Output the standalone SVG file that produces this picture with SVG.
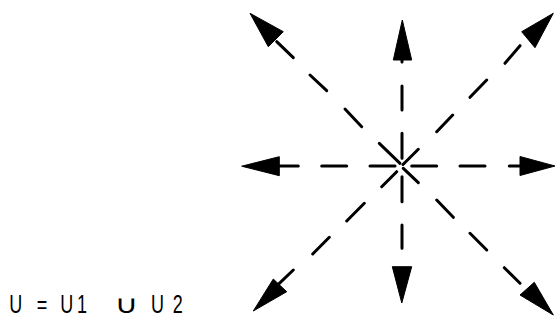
<svg xmlns="http://www.w3.org/2000/svg" width="555" height="326" viewBox="0 0 555 326">
<style>
.d{fill:none;stroke:#000;stroke-width:3;stroke-linecap:round}
.h{fill:#000;stroke:#000;stroke-width:1;stroke-linejoin:round}
.t{font-family:"Liberation Sans","DejaVu Sans",sans-serif;font-size:25px;fill:#000}
.u{font-family:"DejaVu Sans",sans-serif;font-size:28px;fill:#000}
</style>
<rect width="555" height="326" fill="#fff"/>
<g id="connectors">
<g id="ray-n">
<path class="d" d="M402,158.3V133.3M402,110V86M402,62V60"/>
<polygon class="h" points="402.3,20 393.3,60 411.7,60"/>
</g>
<g id="ray-s">
<path class="d" d="M402,176.7V201.7M402,225V248.3"/>
<polygon class="h" points="401.8,303 392.3,266.7 411.7,266.7"/>
</g>
<g id="ray-w">
<path class="d" d="M370,166H395M321.7,166H346.7M279,166H298.3"/>
<polygon class="h" points="241.7,166.2 279.3,156.7 279.3,175.7"/>
</g>
<g id="ray-e">
<path class="d" d="M411.7,166H436.7M460,166H485M509.3,166H521"/>
<polygon class="h" points="555,166 520,156.5 520,175.5"/>
</g>
<g id="ray-nw">
<path class="d" d="M400,163.3L379.3,143.3M361.7,126.7L345,109M326.7,90.7L310,75M293.3,57.7L276.7,41.7"/>
<polygon class="h" points="250,13.3 268.3,46.7 283.3,31.7"/>
</g>
<g id="ray-ne">
<path class="d" d="M403,164.5L418.3,149.3M436.7,131.7L452.7,115M470,97.3L486.7,80M505,63.3L520,45.7"/>
<polygon class="h" points="553.3,13.3 521.7,31.7 535,47.7"/>
</g>
<g id="ray-sw">
<path class="d" d="M396.7,171.7L381.7,186.7M364.3,203.3L346.7,221M329.3,237.3L312.7,254M293.3,270L278.3,284.3"/>
<polygon class="h" points="253.3,311 273.3,279 286.7,291.7"/>
</g>
<g id="ray-se">
<path class="d" d="M403.3,168.3L418.3,182.7M436.7,200L453.3,217.3M470,233.3L486.7,250M504.3,267.7L520,283.3"/>
<polygon class="h" points="553.3,315 520,295 534.3,282.3"/>
</g>
</g>
<g id="label">
<text class="t" transform="translate(10,313.3) scale(0.72,1)"><tspan x="-1">U</tspan><tspan x="37">=</tspan><tspan x="63"> U</tspan><tspan x="93">1</tspan></text>
<text class="u" transform="translate(114.7,313.3) scale(1.16,0.9)">∪</text>
<text class="t" transform="translate(10,313.3) scale(0.72,1)"><tspan x="196">U</tspan><tspan x="226">2</tspan></text>
</g>
</svg>
